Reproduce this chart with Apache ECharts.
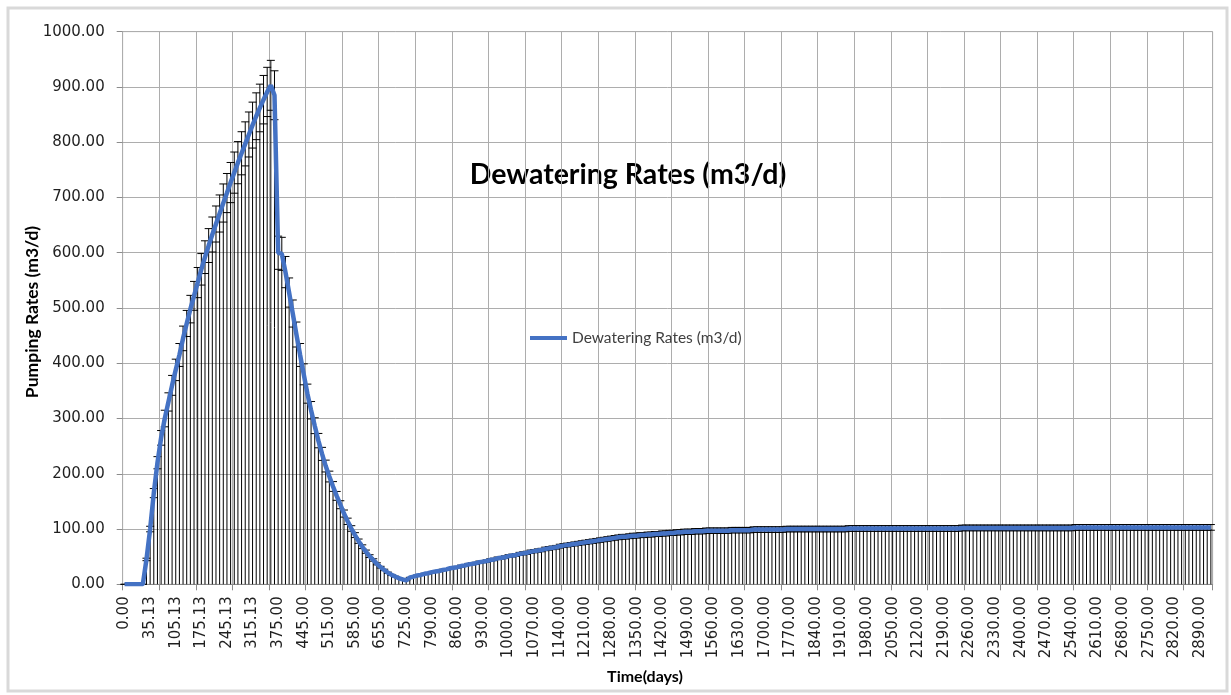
<!DOCTYPE html>
<html>
<head>
<meta charset="utf-8">
<script src="https://cdn.jsdelivr.net/npm/echarts@6/dist/echarts.min.js"></script>
<style>
html,body{margin:0;padding:0;background:#fff;}
#chart{width:1231px;height:695px;}
</style>
</head>
<body>
<div id="chart"></div>
<script>
// ---- Data ----
const titleText = 'Dewatering Rates (m3/d)';
const seriesName = 'Dewatering Rates (m3/d)';
const xAxisTitle = 'Time(days)';
const yAxisTitle = 'Pumping Rates (m3/d)';

// Time categories (days), built from segments of the model's output times
const timeStart = [0.00, 5.13, 10.13, 15.13, 20.13, 25.13, 30.13, 35.13];
const timeSeg1 = { from: 45.13, step: 10, count: 32 };   // 45.13 .. 355.13
const timeMid1 = [365.13, 366.00];
const timeSeg2 = { from: 375.00, step: 10, count: 36 };  // 375 .. 725
const timeMid2 = [730.00];
const timeSeg3 = { from: 740.00, step: 10, count: 219 }; // 740 .. 2920

// Pumping rates (m3/d)
const pumpingRates = [
  0,0,0,0,0,0,45,100,165,220,
  265,300,330,360,388,415,445,472,498,522,
  546,570,592,613,633,652,671,690,708,727,
  745,763,780,797,814,831,847,862,877,891,
  903,885,600,598,565,528,490,452,415,380,
  345,315,287,260,236,214,195,177,160,144,
  128,114,101,89,78,68,59,51,44,37,
  31,26,21,17,14,11,9,7,12,14,
  16,17,19,20,22,23,24,26,27,29,
  30,31,33,34,36,37,38,40,41,42,
  44,45,47,48,49,51,52,53,55,56,
  57,59,60,61,62,64,65,66,67,69,
  70,71,72,73,74,75,76,77,78,79,
  80,81,82,83,84,85,86,86,87,88,
  88,89,89,90,90,91,91,92,92,93,
  93,94,94,95,95,95,96,96,96,97,
  97,97,97,97,97,97,98,98,98,98,
  98,98,99,99,99,99,99,99,99,99,
  99,100,100,100,100,100,100,100,100,100,
  100,100,100,100,100,100,100,100,101,101,
  101,101,101,101,101,101,101,101,101,101,
  101,101,101,101,101,101,101,101,101,101,
  101,101,101,101,101,101,101,101,101,102,
  102,102,102,102,102,102,102,102,102,102,
  102,102,102,102,102,102,102,102,102,102,
  102,102,102,102,102,102,102,102,102,102,
  103,103,103,103,103,103,103,103,103,103,
  103,103,103,103,103,103,103,103,103,103,
  103,103,103,103,103,103,103,103,103,103,
  103,103,103,103,103,103,103,103
];
const errorPercent = 5; // percentage error bars

const yTicks = { min: 0, max: 1000, interval: 100 };

// ---- Build categories ----
function seg(s) { const a = []; for (let k = 0; k < s.count; k++) a.push(s.from + s.step * k); return a; }
const times = [].concat(timeStart, seg(timeSeg1), timeMid1, seg(timeSeg2), timeMid2, seg(timeSeg3));
const categories = times.map(t => t.toFixed(2));

const errData = pumpingRates.map((v, i) => [i, v]);

const chart = echarts.init(document.getElementById('chart'), null, { renderer: 'canvas' });

const gridColor = '#adadad';
const tickFont = 'DejaVu Sans';
const titleFont = 'Lato';

chart.setOption({
  backgroundColor: '#ffffff',
  animation: false,
  legend: {
    data: [{ name: seriesName, icon: 'rect' }],
    left: 530, top: 330, padding: 0,
    itemWidth: 37, itemHeight: 4, itemGap: 2,
    textStyle: { fontFamily: titleFont, fontSize: 15.5, color: '#404040' }
  },
  grid: {
    left: 122.7, right: 18.3, top: 31.7, bottom: 110.7,
    show: true, borderColor: '#d0d0d0', borderWidth: 1
  },
  xAxis: {
    type: 'category',
    data: categories,
    boundaryGap: true,
    axisLine: { show: true, lineStyle: { color: '#8c8c8c', width: 1 } },
    axisTick: { show: true, interval: 9, length: 6, inside: false, lineStyle: { color: '#8c8c8c' } },
    splitLine: { show: true, interval: 9, lineStyle: { color: gridColor, width: 1 } },
    axisLabel: {
      interval: 6, rotate: 90, margin: 12,
      fontFamily: tickFont, fontSize: 15, color: '#1f1f1f'
    }
  },
  yAxis: {
    type: 'value',
    min: yTicks.min, max: yTicks.max, interval: yTicks.interval,
    axisLine: { show: false },
    axisTick: { show: true, length: 6, lineStyle: { color: '#8c8c8c' } },
    splitLine: { show: true, lineStyle: { color: gridColor, width: 1 } },
    axisLabel: {
      margin: 18,
      formatter: v => v.toFixed(2),
      fontFamily: tickFont, fontSize: 15, color: '#1f1f1f'
    }
  },
  graphic: [
    { type: 'rect', silent: true, shape: { x: 8, y: 8, width: 1219, height: 683 },
      style: { fill: null, stroke: '#d9d9d9', lineWidth: 3 } },
    { type: 'text', x: 628, y: 175, silent: true,
      style: { text: titleText, fontFamily: titleFont, fontWeight: 'bold', fontSize: 28.5, fill: '#000',
               align: 'center', verticalAlign: 'middle' } },
    { type: 'text', x: 645, y: 677, silent: true,
      style: { text: xAxisTitle, fontFamily: titleFont, fontWeight: 'bold', fontSize: 16, fill: '#000',
               align: 'center', verticalAlign: 'middle' } },
    { type: 'text', x: 32, y: 312, rotation: Math.PI / 2, silent: true,
      style: { text: yAxisTitle, fontFamily: titleFont, fontWeight: 'bold', fontSize: 17.5, fill: '#000',
               align: 'center', verticalAlign: 'middle' } }
  ],
  series: [
    {
      type: 'custom',
      name: 'errors',
      data: errData,
      encode: { x: 0, y: 1 },
      silent: true,
      z: 2,
      renderItem: function (params, api) {
        const i = api.value(0), v = api.value(1);
        const e = v * errorPercent / 100;
        const base = api.coord([i, 0]);
        const top = api.coord([i, v + e]);
        const low = api.coord([i, v - e]);
        const x = base[0];
        const hw = 4;
        const st = { stroke: '#000', lineWidth: 1 };
        return {
          type: 'group',
          children: [
            { type: 'line', shape: { x1: x, y1: base[1], x2: x, y2: top[1] }, style: st },
            { type: 'line', shape: { x1: x - hw, y1: top[1], x2: x + hw, y2: top[1] }, style: st },
            { type: 'line', shape: { x1: x - hw, y1: low[1], x2: x + hw, y2: low[1] }, style: st }
          ]
        };
      }
    },
    {
      type: 'line',
      name: seriesName,
      data: pumpingRates,
      symbol: 'none',
      z: 3,
      lineStyle: { color: '#4472C4', width: 4.5 },
      itemStyle: { color: '#4472C4' }
    }
  ]
});
</script>
</body>
</html>
